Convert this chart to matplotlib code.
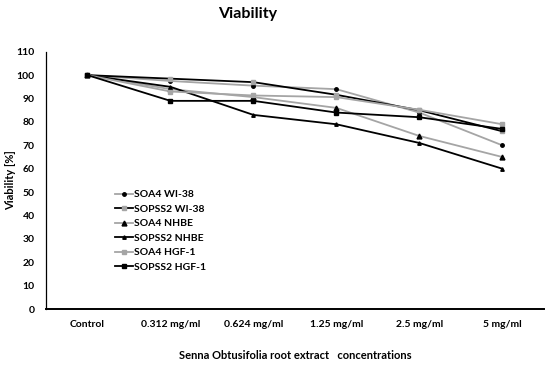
import matplotlib
matplotlib.use("Agg")
import matplotlib.pyplot as plt

plt.rcParams["font.family"] = ["Lato", "DejaVu Sans"]
plt.rcParams["font.weight"] = "bold"

BLACK = "#000000"
GRAY = "#a5a5a5"

categories = ["Control", "0.312 mg/ml", "0.624 mg/ml", "1.25 mg/ml", "2.5 mg/ml", "5 mg/ml"]

soa4_wi38 = [100, 97.5, 95.5, 94, 84, 70]
sopss2_wi38 = [100, 98.5, 97, 91.6, 85, 76]
soa4_nhbe = [100, 94, 90.6, 86, 74, 65]
sopss2_nhbe = [100, 95, 83, 79, 71, 60]
soa4_hgf1 = [100, 93, 91.3, 90.6, 85.2, 79]
sopss2_hgf1 = [100, 89, 89, 84, 82, 77]

# (label, values, line colour, marker, marker colour, marker size)
series = [
    ("SOA4 WI-38", soa4_wi38, GRAY, "o", BLACK, 2.5),
    ("SOPSS2 WI-38", sopss2_wi38, BLACK, "s", GRAY, 3.5),
    ("SOA4 NHBE", soa4_nhbe, GRAY, "^", BLACK, 3.5),
    ("SOPSS2 NHBE", sopss2_nhbe, BLACK, "^", BLACK, 2.5),
    ("SOA4 HGF-1", soa4_hgf1, GRAY, "s", GRAY, 3.5),
    ("SOPSS2 HGF-1", sopss2_hgf1, BLACK, "s", BLACK, 3.5),
]

fig = plt.figure(figsize=(5.5, 3.67), dpi=100)
ax = fig.add_axes([0.0836, 0.158, 0.905, 0.701])

x = list(range(len(categories)))
for label, vals, lc, mk, mc, ms in series:
    ax.plot(x, vals, color=lc, linewidth=1.3, marker=mk, markersize=ms,
            markerfacecolor=mc, markeredgecolor=mc, label=label)

ax.set_xlim(-0.5, len(categories) - 0.5)
ax.set_ylim(0, 110)
ax.set_yticks(range(0, 111, 10))
ax.set_xticks(x)
ax.set_xticklabels(categories, fontsize=7.5, fontweight="bold")
ax.tick_params(axis="y", labelsize=7.5, length=0, pad=8)
ax.tick_params(axis="x", length=0, pad=8)
for t in ax.get_yticklabels():
    t.set_fontweight("bold")

ax.spines["top"].set_visible(False)
ax.spines["right"].set_visible(False)
ax.spines["left"].set_linewidth(0.9)
ax.spines["bottom"].set_linewidth(1.4)

ax.set_xlabel("Senna Obtusifolia root extract   concentrations", fontsize=8,
              fontweight="bold", labelpad=15)
fig.text(0.02, 0.51, "Viability [%]", rotation=90, fontsize=8,
         fontweight="bold", ha="center", va="center")
fig.text(0.45, 0.963, "Viability", fontsize=11.5, fontweight="bold",
         ha="center", va="center")

ax.legend(loc="upper left", bbox_to_anchor=(0.13, 0.478), frameon=False,
          fontsize=7.5, handlelength=1.7, handletextpad=0.1, labelspacing=0.5,
          borderaxespad=0)

fig.savefig("out.png", dpi=100)
